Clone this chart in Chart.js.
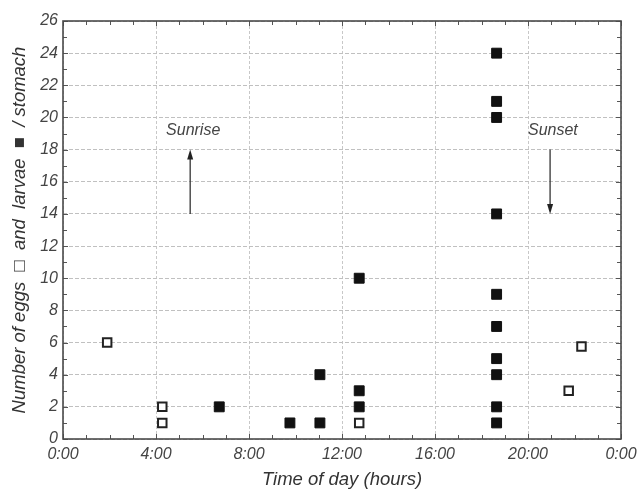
<!DOCTYPE html>
<html>
<head>
<meta charset="utf-8">
<script src="https://cdn.jsdelivr.net/npm/chart.js@4"></script>
<style>
html,body{margin:0;padding:0;background:#fff;}
canvas{display:block;}
</style>
</head>
<body>
<canvas id="c" width="637" height="493"></canvas>
<script>
// Eggs (open squares)
const eggTimes  = [1.9, 4.27, 4.27, 12.74, 21.75, 22.3];
const eggCounts = [6, 2, 1, 1, 3, 5.75];
// Larvae (filled squares)
const larvaTimes  = [6.72, 9.76, 11.05, 11.05, 12.74, 12.74, 12.74,
                     18.65, 18.65, 18.65, 18.65, 18.65, 18.65, 18.65, 18.65, 18.65, 18.65];
const larvaCounts = [2, 1, 1, 4, 10, 3, 2,
                     24, 21, 20, 14, 9, 7, 5, 4, 2, 1];
// Axis ticks
const xTickHours = [0, 4, 8, 12, 16, 20, 24];
const xTickLabels = ["0:00", "4:00", "8:00", "12:00", "16:00", "20:00", "0:00"];
const yTicks = [0, 2, 4, 6, 8, 10, 12, 14, 16, 18, 20, 22, 24, 26];
// Annotations
const noteLabels = ["Sunrise", "Sunset"];
const noteTextX = [5.6, 21.07];
const noteTextY = [19.2, 19.2];
const arrowX = [5.47, 20.95];
const arrowFrom = [14, 18];
const arrowTo = [18, 14];

const FONT = '"Liberation Sans", Arial, sans-serif';
const TXT = '#444';

const frameAndTicks = {
  id: 'frameAndTicks',
  afterDatasetsDraw(chart) {
    const {ctx, chartArea: a, scales: {x, y}} = chart;
    ctx.save();
    ctx.strokeStyle = '#555';
    ctx.lineWidth = 1;
    for (let h = 0; h <= 24; h++) {
      const px = Math.round(x.getPixelForValue(h)) + 0.5;
      const len = (h % 4 === 0) ? 5 : 4;
      ctx.beginPath();
      ctx.moveTo(px, a.bottom); ctx.lineTo(px, a.bottom - len);
      ctx.moveTo(px, a.top); ctx.lineTo(px, a.top + len);
      ctx.stroke();
    }
    for (let v = 0; v <= 26; v++) {
      const py = Math.round(y.getPixelForValue(v)) + 0.5;
      const len = (v % 2 === 0) ? 5 : 4;
      ctx.beginPath();
      ctx.moveTo(a.left, py); ctx.lineTo(a.left + len, py);
      ctx.moveTo(a.right, py); ctx.lineTo(a.right - len, py);
      ctx.stroke();
    }
    ctx.lineWidth = 1.6;
    ctx.strokeStyle = '#4a4a4a';
    ctx.strokeRect(a.left, a.top, a.right - a.left, a.bottom - a.top);
    ctx.fillStyle = '#444';
    ctx.font = 'italic 16px ' + FONT;
    ctx.textAlign = 'center';
    ctx.textBaseline = 'middle';
    for (let i = 0; i < noteLabels.length; i++) {
      ctx.fillText(noteLabels[i], x.getPixelForValue(noteTextX[i]), y.getPixelForValue(noteTextY[i]));
      const ax = x.getPixelForValue(arrowX[i]);
      const y0 = y.getPixelForValue(arrowFrom[i]);
      const y1 = y.getPixelForValue(arrowTo[i]);
      const dir = y1 < y0 ? -1 : 1;
      ctx.strokeStyle = '#333';
      ctx.lineWidth = 1.3;
      ctx.beginPath();
      ctx.moveTo(ax, y0); ctx.lineTo(ax, y1 - dir * 6);
      ctx.stroke();
      ctx.fillStyle = '#222';
      ctx.beginPath();
      ctx.moveTo(ax, y1);
      ctx.lineTo(ax - 3, y1 - dir * 10);
      ctx.lineTo(ax + 3, y1 - dir * 10);
      ctx.closePath();
      ctx.fill();
      ctx.fillStyle = '#444';
    }
    ctx.restore();
  }
};

new Chart(document.getElementById('c'), {
  type: 'scatter',
  data: {
    datasets: [
      {
        label: 'Eggs',
        data: eggTimes.map((t, i) => ({x: t, y: eggCounts[i]})),
        pointStyle: 'rect',
        pointRadius: 6,
        pointHoverRadius: 6,
        borderWidth: 2,
        borderColor: '#222',
        backgroundColor: '#fff'
      },
      {
        label: 'Larvae',
        data: larvaTimes.map((t, i) => ({x: t, y: larvaCounts[i]})),
        pointStyle: 'rect',
        pointRadius: 7,
        pointHoverRadius: 7,
        borderWidth: 1,
        borderColor: '#111',
        backgroundColor: '#111'
      }
    ]
  },
  options: {
    responsive: false,
    animation: false,
    devicePixelRatio: 1,
    layout: {padding: {top: 21, right: 16, left: 0, bottom: 0}},
    plugins: {legend: {display: false}, tooltip: {enabled: false}},
    scales: {
      x: {
        type: 'linear', min: 0, max: 24,
        afterFit: s => { s.height = 54; s.paddingLeft = 0; s.paddingRight = 0; },
        afterBuildTicks: s => { s.ticks = xTickHours.map(v => ({value: v})); },
        ticks: {
          callback: (v) => xTickLabels[xTickHours.indexOf(v)],
          font: {family: FONT, size: 16, style: 'italic'},
          color: TXT, padding: 6, maxRotation: 0, autoSkip: false
        },
        grid: {color: '#c8c8c8', lineWidth: 1, drawTicks: false},
        border: {display: false, dash: [3, 2]},
        title: {
          display: true, text: 'Time of day (hours)',
          font: {family: FONT, size: 18.5, style: 'italic'},
          color: '#333', padding: {top: 0, bottom: 2}
        }
      },
      y: {
        type: 'linear', min: 0, max: 26,
        afterFit: s => { s.width = 63; s.paddingTop = 0; s.paddingBottom = 0; },
        afterBuildTicks: s => { s.ticks = yTicks.map(v => ({value: v})); },
        ticks: {
          font: {family: FONT, size: 16, style: 'italic'},
          color: TXT, padding: 5, autoSkip: false
        },
        grid: {color: '#c0c0c0', lineWidth: 1, drawTicks: false},
        border: {display: false, dash: [4, 2]},
        title: {
          display: true, text: 'Number of eggs  \u25A1  and  larvae  \u25A0  / stomach',
          font: {family: FONT, size: 18.5, style: 'italic'},
          color: '#333', padding: {top: 9, bottom: 0}
        }
      }
    }
  },
  plugins: [frameAndTicks]
});
</script>
</body>
</html>
